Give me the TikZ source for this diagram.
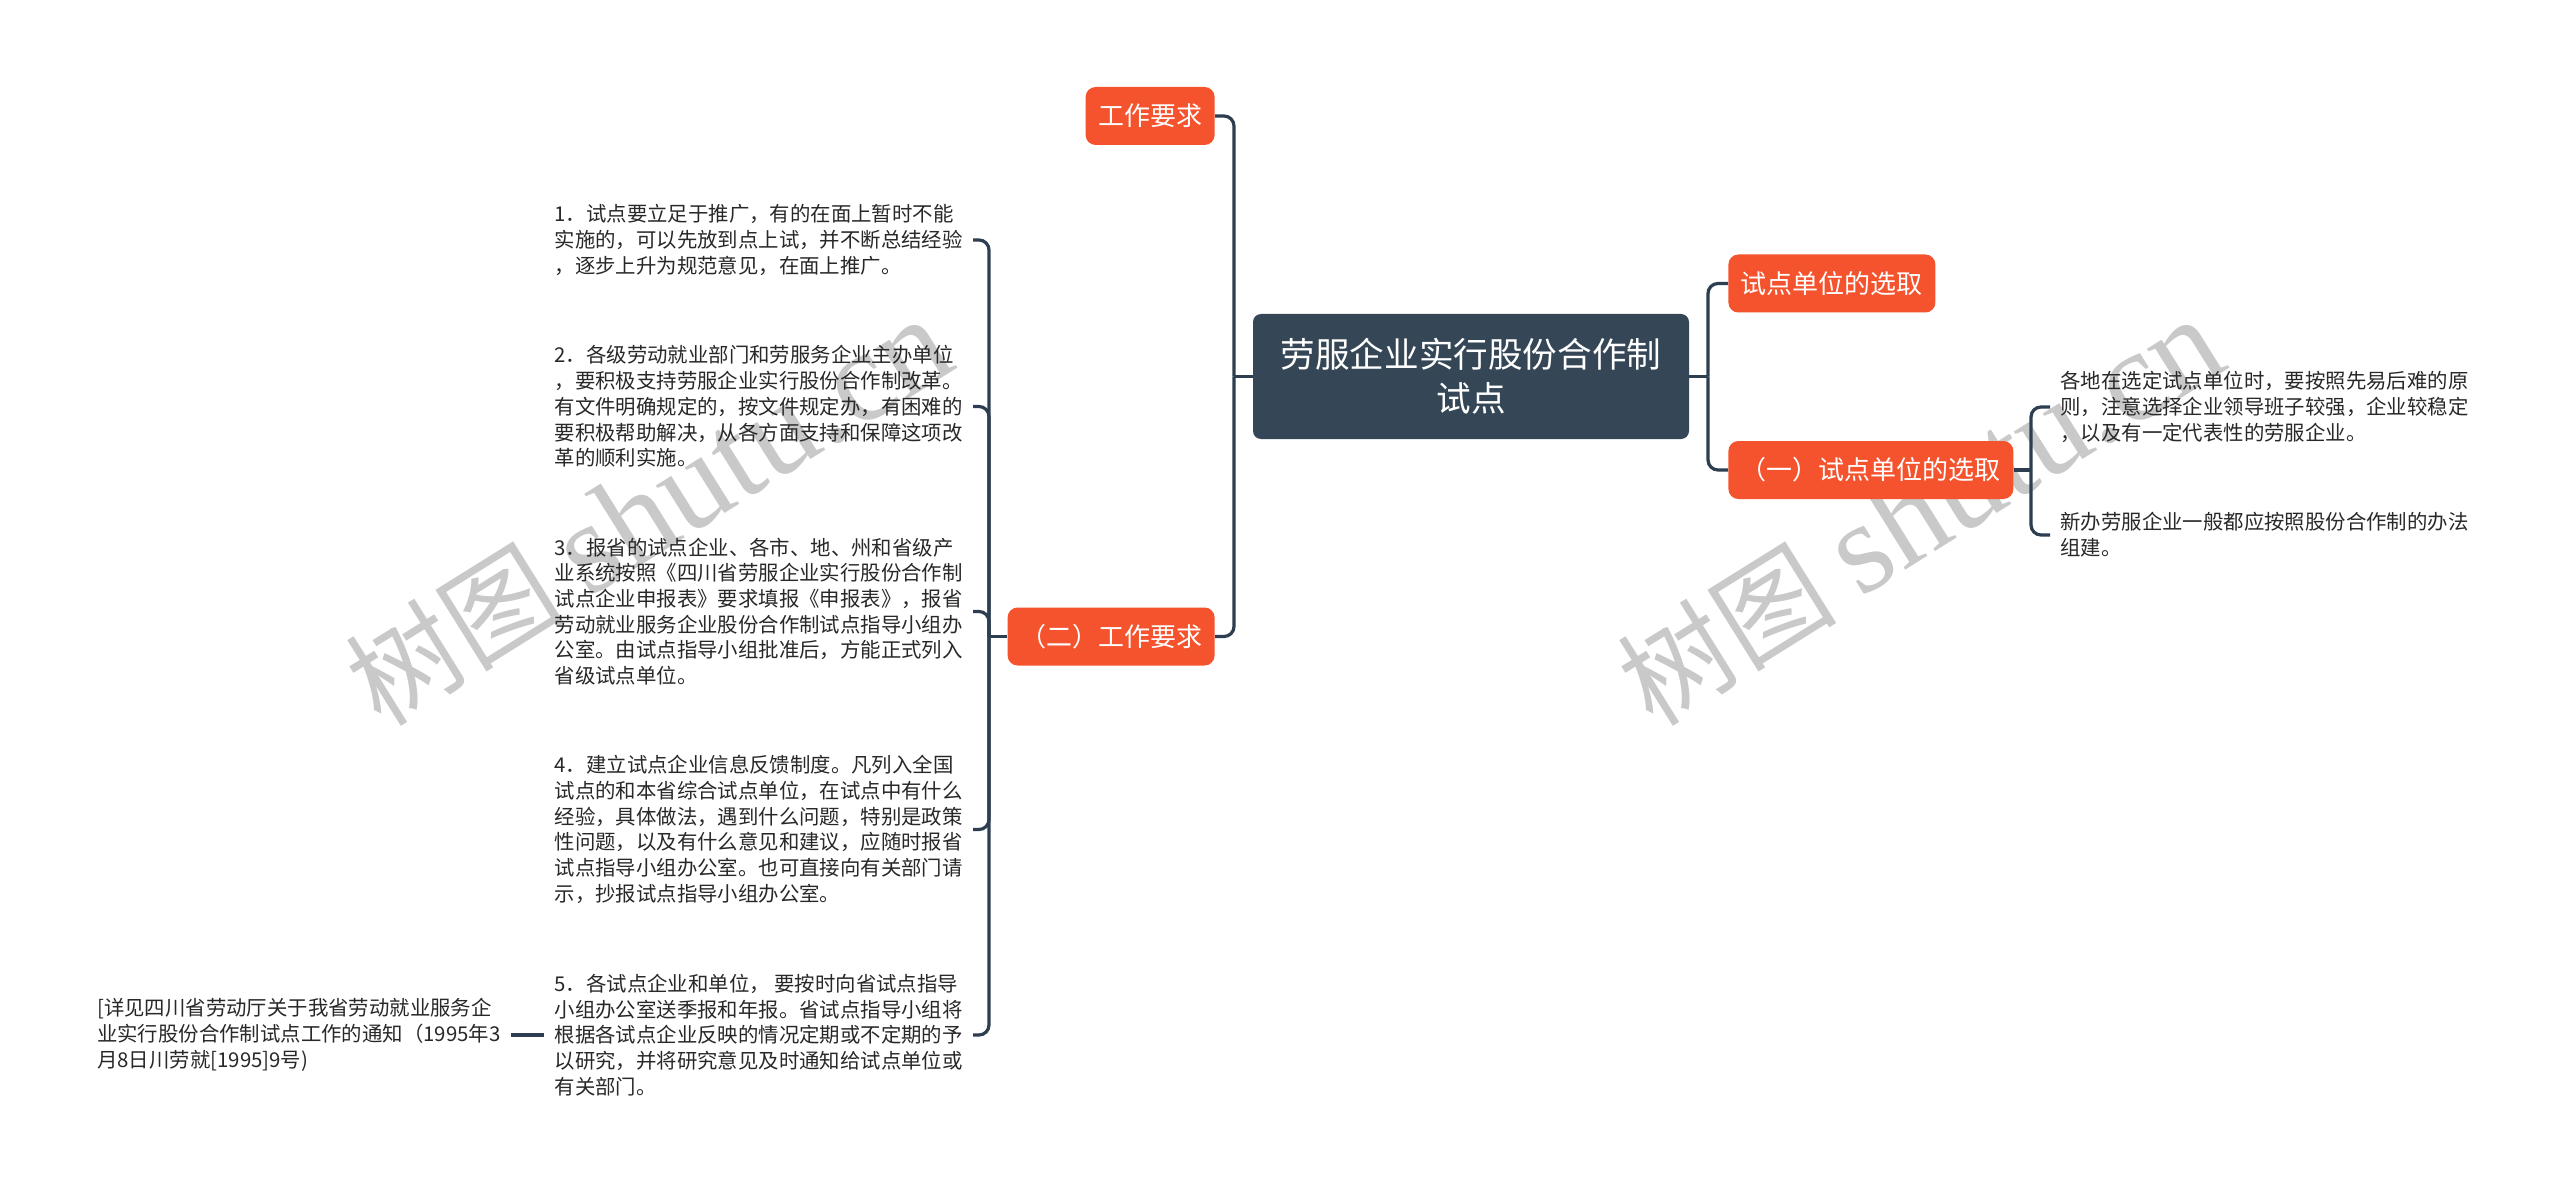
\documentclass[tikz,border=0pt]{standalone}
\usepackage{fontspec}
\setmainfont{Noto Sans CJK SC}
\newfontfamily\wmlatin{Liberation Serif}
\definecolor{orangebox}{RGB}{245,83,45}
\definecolor{rootbox}{RGB}{53,71,86}
\definecolor{linec}{RGB}{44,62,80}
\definecolor{leaftext}{RGB}{40,40,40}
\begin{document}
\begin{tikzpicture}[x=0.5pt,y=-0.5pt,
  conn/.style={draw=linec,line width=1.6pt,rounded corners=5pt},
  rootnode/.style={fill=rootbox,text=white,rounded corners=4pt,minimum width=218pt,minimum height=62.5pt,align=center,font=\fontsize{17.3pt}{22pt}\selectfont,inner sep=0pt},
  topic/.style={fill=orangebox,text=white,rounded corners=5pt,font=\fontsize{13pt}{15pt}\selectfont,inner xsep=6.25pt,inner ysep=0pt,minimum height=29pt},
  leaf/.style={text=leaftext,align=left,font=\fontsize{10.2pt}{12.85pt}\selectfont,inner xsep=5pt,inner ysep=2pt},
  wm/.style={text=black!21,rotate=32,font=\fontsize{55pt}{55pt}\selectfont}
]
\useasboundingbox (0,0) rectangle (2560,1198);
\fill[white] (0,0) rectangle (2560,1198);

% watermarks
\node[wm] (wm1) at (648,512) {树图 {\wmlatin\fontsize{65pt}{65pt}\selectfont shutu.cn}};
\node[wm] (wm2) at (1920,512) {树图 {\wmlatin\fontsize{65pt}{65pt}\selectfont shutu.cn}};

% root and main topics
\node[rootnode] (root) at (1471,376.5) {劳服企业实行股份合作制\\试点};
\node[topic,anchor=east] (t1) at (1215,116) {工作要求};
\node[topic,anchor=east] (t2) at (1215,636.5) {（二）工作要求};
\node[topic,anchor=west] (t3) at (1728,283.5) {试点单位的选取};
\node[topic,anchor=west] (t4) at (1728,470) {（一）试点单位的选取};

% left leaves
\node[leaf,anchor=east] (i1) at (973,240) {1．试点要立足于推广，有的在面上暂时不能\\实施的，可以先放到点上试，并不断总结经验\\，逐步上升为规范意见，在面上推广。};
\node[leaf,anchor=east] (i2) at (973,406.5) {2．各级劳动就业部门和劳服务企业主办单位\\，要积极支持劳服企业实行股份合作制改革。\\有文件明确规定的，按文件规定办，有困难的\\要积极帮助解决，从各方面支持和保障这项改\\革的顺利实施。};
\node[leaf,anchor=east] (i3) at (973,611.5) {3．报省的试点企业、各市、地、州和省级产\\业系统按照《四川省劳服企业实行股份合作制\\试点企业申报表》要求填报《申报表》，报省\\劳动就业服务企业股份合作制试点指导小组办\\公室。由试点指导小组批准后，方能正式列入\\省级试点单位。};
\node[leaf,anchor=east] (i4) at (973,829.5) {4．建立试点企业信息反馈制度。凡列入全国\\试点的和本省综合试点单位，在试点中有什么\\经验，具体做法，遇到什么问题，特别是政策\\性问题，以及有什么意见和建议，应随时报省\\试点指导小组办公室。也可直接向有关部门请\\示，抄报试点指导小组办公室。};
\node[leaf,anchor=east] (i5) at (973,1035) {5．各试点企业和单位， 要按时向省试点指导\\小组办公室送季报和年报。省试点指导小组将\\根据各试点企业反映的情况定期或不定期的予\\以研究，并将研究意见及时通知给试点单位或\\有关部门。};
\node[leaf,anchor=east] (n1) at (511,1035) {[详见四川省劳动厅关于我省劳动就业服务企\\业实行股份合作制试点工作的通知（1995年3\\月8日川劳就[1995]9号)};

% right leaves
\node[leaf,anchor=west] (r1) at (2050,407) {各地在选定试点单位时，要按照先易后难的原\\则，注意选择企业领导班子较强，企业较稳定\\，以及有一定代表性的劳服企业。};
\node[leaf,anchor=west] (r2) at (2050,535) {新办劳服企业一般都应按照股份合作制的办法\\组建。};

% junctions
\coordinate (jl) at (1234,376.5);
\coordinate (jr) at (1708,376.5);
\coordinate (jb) at (989,636.5);
\coordinate (jc) at (2031,470);

% connectors
\draw[conn] (root.west) -- (jl);
\draw[conn] (jl) |- (t1.east);
\draw[conn] (jl) |- (t2.east);
\draw[conn] (root.east) -- (jr);
\draw[conn] (jr) |- (t3.west);
\draw[conn] (jr) |- (t4.west);
\draw[conn] (t2.west) -- (jb);
\draw[conn] (jb) |- (i1.east);
\draw[conn] (jb) |- (i2.east);
\draw[conn] (jb) |- (i3.east);
\draw[conn] (jb) |- (i4.east);
\draw[conn] (jb) |- (i5.east);
\draw[conn] (t4.east) -- (jc);
\draw[conn] (jc) |- (r1.west);
\draw[conn] (jc) |- (r2.west);
\draw[conn] (n1.east) -- (i5.west);
\end{tikzpicture}
\end{document}
